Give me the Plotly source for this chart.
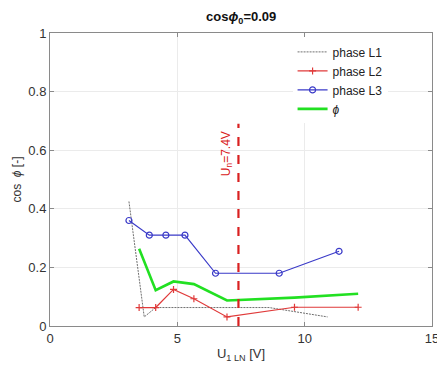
import plotly.graph_objects as go

# Phase L1 (no markers)
l1_u = [3.1, 3.7, 4.15, 4.85, 5.65, 6.95, 8.6, 10.9]
l1_cos = [0.425, 0.031, 0.063, 0.063, 0.063, 0.063, 0.063, 0.031]

# Phase L2
l2_u = [3.5, 4.15, 4.85, 5.65, 6.95, 9.6, 12.1]
l2_cos = [0.063, 0.063, 0.125, 0.093, 0.031, 0.064, 0.064]

# Phase L3
l3_u = [3.1, 3.9, 4.55, 5.3, 6.5, 9.0, 11.35]
l3_cos = [0.36, 0.31, 0.31, 0.31, 0.18, 0.18, 0.255]

# Resulting cos phi
phi_u = [3.5, 4.15, 4.85, 5.65, 6.95, 9.6, 12.1]
phi_cos = [0.264, 0.122, 0.152, 0.143, 0.087, 0.097, 0.11]

u_nominal = 7.4
x_ticks = [0, 5, 10, 15]
y_ticks = [0, 0.2, 0.4, 0.6, 0.8, 1]
y_tick_text = ["0", "0.2", "0.4", "0.6", "0.8", "1"]

font = "Liberation Sans, Arial, sans-serif"

fig = go.Figure()
fig.add_trace(go.Scatter(x=l1_u, y=l1_cos, mode="lines", name="phase L1",
                         line=dict(color="#707070", width=1, dash="2px,1px")))
fig.add_trace(go.Scatter(x=l2_u, y=l2_cos, mode="lines+markers", name="phase L2",
                         line=dict(color="#e03a3a", width=1.2),
                         marker=dict(symbol="cross-thin", size=5,
                                     line=dict(color="#e03a3a", width=1.2))))
fig.add_trace(go.Scatter(x=l3_u, y=l3_cos, mode="lines+markers", name="phase L3",
                         line=dict(color="#3a3ac8", width=1.2),
                         marker=dict(symbol="circle-open", size=6,
                                     line=dict(color="#3a3ac8", width=1.2))))
fig.add_trace(go.Scatter(x=phi_u, y=phi_cos, mode="lines", name="<i>ϕ</i>",
                         line=dict(color="#22e022", width=2.6)))

# Nominal voltage marker line with its label
fig.add_shape(type="line", x0=u_nominal, x1=u_nominal, y0=0, y1=0.69,
              xref="x", yref="y", line=dict(color="#d92020", width=2.2, dash="dash"))
fig.add_annotation(x=u_nominal, y=0.588, xref="x", yref="y", xanchor="right",
                   xshift=-2, text=f"U<sub>n</sub>={u_nominal}V", textangle=-90,
                   showarrow=False, font=dict(color="#d92020", size=12, family=font))

axis_common = dict(showline=True, linecolor="#8a8a8a", linewidth=1, mirror="ticks",
                   ticks="inside", ticklen=4, tickcolor="#8a8a8a",
                   showgrid=True, gridcolor="#ebebeb", zeroline=False,
                   ticklabeloverflow="allow", automargin=False,
                   tickfont=dict(size=13, color="#333", family=font))

fig.update_layout(
    width=437, height=370,
    margin=dict(l=50, r=5, t=33, b=44),
    paper_bgcolor="white", plot_bgcolor="white",
    font=dict(family=font, color="#333"),
    title=dict(text="<b>cos<i>ϕ</i><sub>0</sub>=0.09</b>", x=0.552, xanchor="center",
               y=0.955, yanchor="middle", font=dict(size=13, color="#111", family=font)),
    xaxis=dict(range=[0, 15], tickvals=x_ticks,
               title=dict(text="U<sub>1 LN</sub> [V]", standoff=4,
                          font=dict(size=13, color="#333", family=font)),
               **axis_common),
    yaxis=dict(range=[0, 1], tickvals=y_ticks, ticktext=y_tick_text,
               title=dict(text="cos  <i>ϕ</i> [-]", standoff=4,
                          font=dict(size=12, color="#333", family=font)),
               **axis_common),
    legend=dict(x=0.635, y=0.985, xanchor="left", yanchor="top",
                bgcolor="white", borderwidth=0, tracegroupgap=0,
                font=dict(size=12, color="#222", family=font), itemwidth=30),
    showlegend=True,
)

fig.write_html("out.html")
